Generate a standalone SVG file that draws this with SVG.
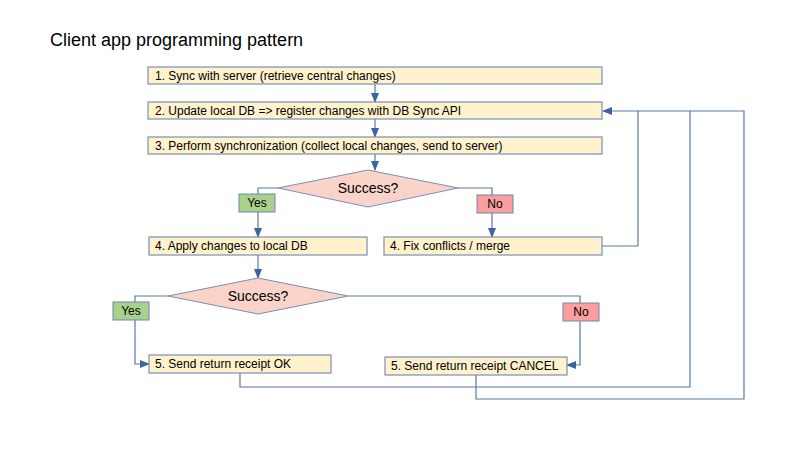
<svg xmlns="http://www.w3.org/2000/svg" width="800" height="450" viewBox="0 0 800 450">
<defs>
<marker id="arr" markerWidth="10" markerHeight="8" refX="9" refY="4" orient="auto" markerUnits="userSpaceOnUse">
<path d="M0,0 L10,4 L0,8 Z" fill="#3D63A0"/>
</marker>
<style>
.box{fill:#FFF2CC;stroke:#7A8FB5;stroke-width:1.2}
.dia{fill:#F9D3C8;stroke:#7A8FB5;stroke-width:1}
.yes{fill:#A9D18E;stroke:#6E87B0;stroke-width:1}
.no{fill:#FA9E9E;stroke:#6E87B0;stroke-width:1}
.t{font-family:"Liberation Sans",Arial,sans-serif;font-size:12px;fill:#000}
.tc{font-family:"Liberation Sans",Arial,sans-serif;font-size:12px;fill:#000;text-anchor:middle}
.td{font-family:"Liberation Sans",Arial,sans-serif;font-size:14px;fill:#000;text-anchor:middle}
.ln{fill:none;stroke:#5A78A8;stroke-width:1.2}
.la{fill:none;stroke:#5A78A8;stroke-width:1.2;marker-end:url(#arr)}
</style>
</defs>
<rect width="800" height="450" fill="#FFFFFF"/>
<text x="50" y="46" font-family="Liberation Sans,Arial,sans-serif" font-size="18" fill="#000">Client app programming pattern</text>

<g id="connectors">
<path class="la" d="M375,84 V102"/>
<path class="la" d="M375,119 V137"/>
<path class="la" d="M375,154 V170"/>
<path class="la" d="M278,188 H258 V237"/>
<path class="la" d="M458,188 H492 V237"/>
<path class="la" d="M258,255 V278"/>
<path class="la" d="M168,296 H135 V364 H149"/>
<path class="la" d="M348,296 H580 V365 H567"/>
<path class="la" d="M602,246 H638 V111 H603"/>
<path class="ln" d="M240,373 V387 H690 V111 H638"/>
<path class="ln" d="M476,375 V399 H744 V111 H690"/>
</g>

<g id="n1"><rect class="box" x="148" y="67" width="454" height="17"/><text class="t" x="155" y="80">1. Sync with server (retrieve central changes)</text></g>
<g id="n2"><rect class="box" x="148" y="102" width="454" height="17"/><text class="t" x="155" y="115">2. Update local DB =&gt; register changes with DB Sync API</text></g>
<g id="n3"><rect class="box" x="148" y="137" width="454" height="17"/><text class="t" x="155" y="150">3. Perform synchronization (collect local changes, send to server)</text></g>
<g id="d1"><polygon class="dia" points="368,170 458,188 368,207 278,188"/><text class="td" x="368" y="193">Success?</text></g>
<g id="y1"><rect class="yes" x="239" y="194" width="36" height="18"/><text class="tc" x="257" y="207">Yes</text></g>
<g id="no1"><rect class="no" x="477" y="195" width="36" height="18"/><text class="tc" x="495" y="208">No</text></g>
<g id="n4a"><rect class="box" x="149" y="237" width="218" height="18"/><text class="t" x="155" y="250">4. Apply changes to local DB</text></g>
<g id="n4b"><rect class="box" x="384" y="237" width="218" height="18"/><text class="t" x="390" y="250">4. Fix conflicts / merge</text></g>
<g id="d2"><polygon class="dia" points="258,278 348,296 258,314 168,296"/><text class="td" x="258" y="301">Success?</text></g>
<g id="y2"><rect class="yes" x="113" y="302" width="36" height="18"/><text class="tc" x="131" y="315">Yes</text></g>
<g id="no2"><rect class="no" x="563" y="303" width="36" height="18"/><text class="tc" x="581" y="316">No</text></g>
<g id="n5a"><rect class="box" x="149" y="355" width="182" height="18"/><text class="t" x="155" y="368">5. Send return receipt OK</text></g>
<g id="n5b"><rect class="box" x="385" y="357" width="182" height="18"/><text class="t" x="391" y="370">5. Send return receipt CANCEL</text></g>
</svg>
